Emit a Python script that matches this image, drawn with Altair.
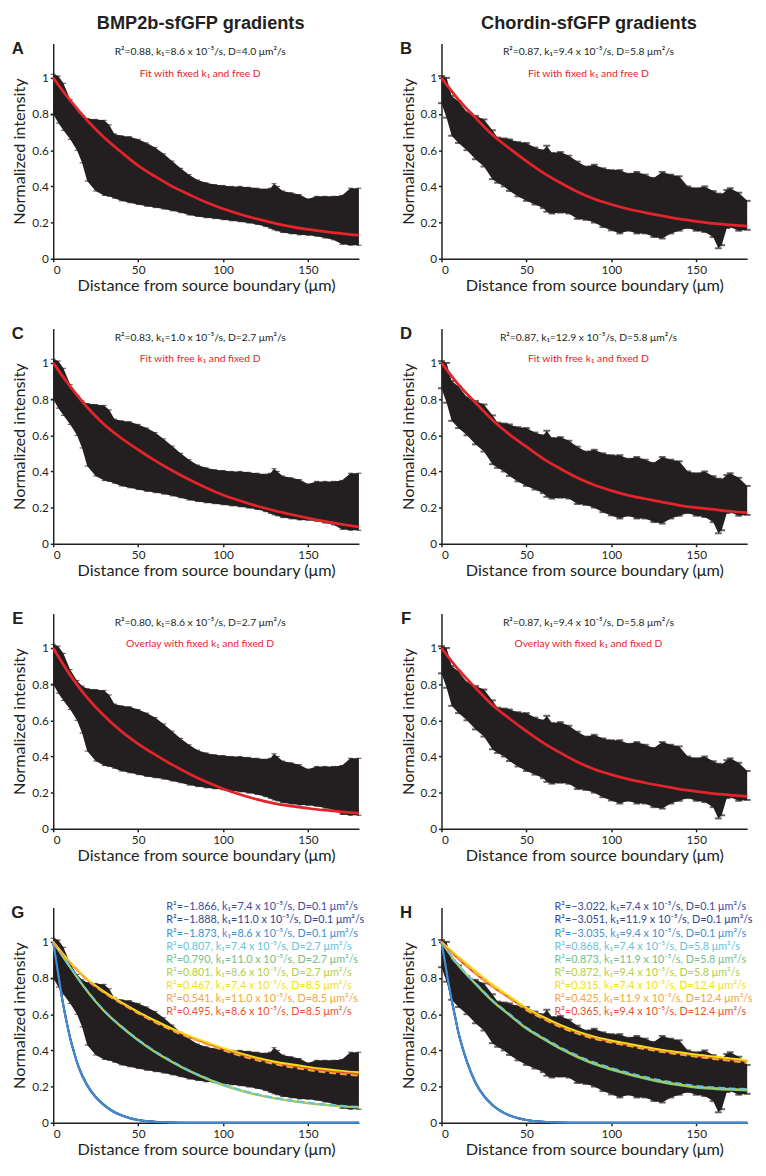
import altair as alt
import pandas as pd

# ---------------- data ----------------
BMP_X = [0, 3, 6, 10, 14, 17, 20, 25, 30, 33, 36, 40, 45, 50, 55, 60, 65, 70, 75, 80, 85,
         90, 95, 100, 105, 110, 115, 120, 125, 128, 130, 132, 135, 140, 145, 150, 155, 160,
         165, 170, 175, 180]
BMP_UP = [1.02, 1.01, 0.97, 0.88, 0.82, 0.79, 0.775, 0.77, 0.765, 0.74, 0.69, 0.68, 0.675,
          0.66, 0.64, 0.615, 0.58, 0.54, 0.50, 0.465, 0.435, 0.42, 0.41, 0.405, 0.40, 0.40,
          0.395, 0.39, 0.385, 0.39, 0.415, 0.40, 0.375, 0.365, 0.355, 0.33, 0.345, 0.345,
          0.345, 0.35, 0.39, 0.39]
BMP_LO = [0.80, 0.75, 0.71, 0.66, 0.60, 0.53, 0.43, 0.375, 0.35, 0.345, 0.335, 0.32, 0.31,
          0.30, 0.29, 0.283, 0.275, 0.265, 0.255, 0.242, 0.234, 0.227, 0.222, 0.216, 0.21,
          0.205, 0.198, 0.19, 0.178, 0.168, 0.16, 0.155, 0.145, 0.138, 0.132, 0.13, 0.125,
          0.115, 0.105, 0.08, 0.075, 0.075]

CHD_X = [0, 3, 6, 10, 15, 20, 25, 30, 33, 37, 40, 45, 50, 55, 60, 62, 65, 70, 75, 80, 85,
         90, 95, 100, 105, 110, 115, 120, 125, 130, 135, 140, 145, 150, 155, 160, 163, 165,
         168, 170, 175, 180]
CHD_UP = [1.01, 1.0, 0.90, 0.87, 0.81, 0.79, 0.77, 0.71, 0.67, 0.665, 0.66, 0.645, 0.64,
          0.615, 0.60, 0.625, 0.585, 0.59, 0.57, 0.537, 0.51, 0.52, 0.50, 0.49, 0.49, 0.47,
          0.48, 0.465, 0.447, 0.48, 0.465, 0.456, 0.40, 0.39, 0.40, 0.374, 0.36, 0.356,
          0.38, 0.39, 0.365, 0.32]
CHD_LO = [0.86, 0.78, 0.68, 0.64, 0.60, 0.55, 0.51, 0.44, 0.42, 0.40, 0.375, 0.345, 0.32,
          0.30, 0.28, 0.26, 0.25, 0.255, 0.25, 0.22, 0.215, 0.20, 0.175, 0.157, 0.14, 0.155,
          0.14, 0.14, 0.12, 0.112, 0.14, 0.155, 0.17, 0.155, 0.148, 0.12, 0.058, 0.075,
          0.17, 0.175, 0.155, 0.16]

FIT_X = [0, 10, 20, 30, 40, 50, 60, 70, 80, 90, 100, 110, 120, 130, 140, 150, 160, 170, 180]
FIT_A = [1.0, 0.875, 0.765, 0.67, 0.59, 0.515, 0.455, 0.40, 0.355, 0.312, 0.276, 0.246,
         0.22, 0.197, 0.178, 0.162, 0.15, 0.139, 0.13]
FIT_B = [1.0, 0.88, 0.78, 0.685, 0.61, 0.54, 0.475, 0.42, 0.37, 0.33, 0.30, 0.275, 0.255,
         0.237, 0.22, 0.207, 0.195, 0.187, 0.18]
FIT_C = [1.0, 0.87, 0.755, 0.66, 0.585, 0.52, 0.46, 0.405, 0.355, 0.31, 0.27, 0.238, 0.209,
         0.184, 0.162, 0.142, 0.124, 0.108, 0.094]
FIT_D = [1.0, 0.88, 0.78, 0.685, 0.605, 0.537, 0.47, 0.415, 0.365, 0.325, 0.294, 0.268,
         0.249, 0.23, 0.213, 0.2, 0.19, 0.18, 0.172]
FIT_E = [1.0, 0.85, 0.725, 0.625, 0.54, 0.47, 0.41, 0.355, 0.305, 0.26, 0.222, 0.19, 0.163,
         0.141, 0.126, 0.114, 0.103, 0.094, 0.087]
FIT_F = [1.0, 0.88, 0.78, 0.685, 0.61, 0.54, 0.475, 0.42, 0.37, 0.33, 0.30, 0.275, 0.255,
         0.237, 0.22, 0.207, 0.195, 0.187, 0.18]

LOW_X = [0, 2, 4, 6, 8, 10, 12, 15, 20, 25, 30, 35, 40, 45, 50, 60, 70, 80, 100, 140, 180]
G1 = [1.0, 0.88, 0.76, 0.65, 0.555, 0.47, 0.40, 0.31, 0.21, 0.145, 0.10, 0.066, 0.043,
      0.027, 0.016, 0.006, 0.002, 0.0005, 0, 0, 0]
G2 = [1.0, 0.88, 0.755, 0.645, 0.55, 0.465, 0.395, 0.305, 0.205, 0.14, 0.096, 0.063, 0.041,
      0.025, 0.015, 0.005, 0.0015, 0.0004, 0, 0, 0]
G3 = [1.0, 0.88, 0.758, 0.648, 0.552, 0.468, 0.398, 0.308, 0.208, 0.143, 0.098, 0.064,
      0.042, 0.026, 0.0155, 0.0055, 0.0017, 0.0004, 0, 0, 0]
G4 = [1.0, 0.86, 0.73, 0.62, 0.535, 0.46, 0.395, 0.34, 0.29, 0.248, 0.212, 0.183, 0.158,
      0.139, 0.124, 0.112, 0.102, 0.094, 0.088]
G5 = [1.0, 0.858, 0.727, 0.617, 0.53, 0.455, 0.39, 0.335, 0.285, 0.243, 0.207, 0.178,
      0.154, 0.135, 0.12, 0.108, 0.098, 0.09, 0.084]
G6 = [1.0, 0.86, 0.728, 0.618, 0.533, 0.458, 0.392, 0.337, 0.288, 0.246, 0.21, 0.181,
      0.156, 0.137, 0.122, 0.11, 0.1, 0.092, 0.086]
G7 = [1.0, 0.888, 0.795, 0.725, 0.667, 0.613, 0.565, 0.52, 0.482, 0.447, 0.414, 0.385,
      0.36, 0.339, 0.323, 0.309, 0.297, 0.287, 0.279]
G8 = [1.0, 0.884, 0.79, 0.718, 0.66, 0.605, 0.555, 0.51, 0.471, 0.435, 0.401, 0.371,
      0.346, 0.325, 0.307, 0.292, 0.279, 0.269, 0.26]
G9 = [1.0, 0.886, 0.792, 0.721, 0.663, 0.609, 0.56, 0.515, 0.476, 0.441, 0.408, 0.378,
      0.353, 0.332, 0.315, 0.3, 0.288, 0.278, 0.269]

H1 = [1.0, 0.89, 0.78, 0.68, 0.59, 0.50, 0.43, 0.34, 0.225, 0.15, 0.10, 0.065, 0.042,
      0.026, 0.016, 0.006, 0.002, 0.0005, 0, 0, 0]
H2 = [1.0, 0.89, 0.775, 0.675, 0.585, 0.495, 0.425, 0.335, 0.22, 0.146, 0.097, 0.063,
      0.04, 0.025, 0.015, 0.005, 0.0015, 0.0004, 0, 0, 0]
H3 = [1.0, 0.89, 0.778, 0.678, 0.588, 0.498, 0.428, 0.338, 0.223, 0.148, 0.098, 0.064,
      0.041, 0.0255, 0.0155, 0.0055, 0.0017, 0.0004, 0, 0, 0]
H4 = [1.0, 0.872, 0.772, 0.678, 0.601, 0.527, 0.47, 0.417, 0.372, 0.333, 0.303, 0.277,
      0.253, 0.233, 0.217, 0.204, 0.196, 0.19, 0.186]
H5 = [1.0, 0.868, 0.767, 0.672, 0.595, 0.52, 0.462, 0.408, 0.362, 0.323, 0.293, 0.267,
      0.243, 0.223, 0.207, 0.194, 0.187, 0.182, 0.178]
H6 = [1.0, 0.87, 0.77, 0.675, 0.598, 0.523, 0.466, 0.412, 0.367, 0.328, 0.298, 0.272,
      0.248, 0.228, 0.212, 0.199, 0.192, 0.187, 0.183]
H7 = [1.0, 0.918, 0.84, 0.765, 0.7, 0.636, 0.585, 0.541, 0.505, 0.476, 0.455, 0.437,
      0.419, 0.403, 0.39, 0.377, 0.366, 0.356, 0.346]
H8 = [1.0, 0.91, 0.828, 0.752, 0.687, 0.623, 0.573, 0.529, 0.493, 0.464, 0.443, 0.425,
      0.407, 0.391, 0.378, 0.365, 0.353, 0.342, 0.333]
H9 = [1.0, 0.905, 0.825, 0.752, 0.69, 0.628, 0.578, 0.534, 0.498, 0.469, 0.449, 0.431,
      0.413, 0.397, 0.384, 0.371, 0.36, 0.35, 0.34]

G_LABELS = [
    "R²=−1.866, k₁=7.4 x 10⁻⁵/s, D=0.1 μm²/s",
    "R²=−1.888, k₁=11.0 x 10⁻⁵/s, D=0.1 μm²/s",
    "R²=−1.873, k₁=8.6 x 10⁻⁵/s, D=0.1 μm²/s",
    "R²=0.807, k₁=7.4 x 10⁻⁵/s, D=2.7 μm²/s",
    "R²=0.790, k₁=11.0 x 10⁻⁵/s, D=2.7 μm²/s",
    "R²=0.801, k₁=8.6 x 10⁻⁵/s, D=2.7 μm²/s",
    "R²=0.467, k₁=7.4 x 10⁻⁵/s, D=8.5 μm²/s",
    "R²=0.541, k₁=11.0 x 10⁻⁵/s, D=8.5 μm²/s",
    "R²=0.495, k₁=8.6 x 10⁻⁵/s, D=8.5 μm²/s",
]
H_LABELS = [
    "R²=−3.022, k₁=7.4 x 10⁻⁵/s, D=0.1 μm²/s",
    "R²=−3.051, k₁=11.9 x 10⁻⁵/s, D=0.1 μm²/s",
    "R²=−3.035, k₁=9.4 x 10⁻⁵/s, D=0.1 μm²/s",
    "R²=0.868, k₁=7.4 x 10⁻⁵/s, D=5.8 μm²/s",
    "R²=0.873, k₁=11.9 x 10⁻⁵/s, D=5.8 μm²/s",
    "R²=0.872, k₁=9.4 x 10⁻⁵/s, D=5.8 μm²/s",
    "R²=0.315, k₁=7.4 x 10⁻⁵/s, D=12.4 μm²/s",
    "R²=0.425, k₁=11.9 x 10⁻⁵/s, D=12.4 μm²/s",
    "R²=0.365, k₁=9.4 x 10⁻⁵/s, D=12.4 μm²/s",
]
CURVE_COLORS = ["#394c9f", "#2e4597", "#3f8fcf", "#67c2da", "#6fbf87", "#b3cf3f",
                "#f4de1c", "#f5a53a", "#e8542b"]
LEGEND_Y = [1.19, 1.118, 1.046, 0.974, 0.902, 0.830, 0.758, 0.686, 0.614]

ANNOT = {
    "A": ("R²=0.88, k₁=8.6 x 10⁻⁵/s, D=4.0 μm²/s", "Fit with fixed k₁ and free D"),
    "B": ("R²=0.87, k₁=9.4 x 10⁻⁵/s, D=5.8 μm²/s", "Fit with fixed k₁ and free D"),
    "C": ("R²=0.83, k₁=1.0 x 10⁻⁵/s, D=2.7 μm²/s", "Fit with free k₁ and fixed D"),
    "D": ("R²=0.87, k₁=12.9 x 10⁻⁵/s, D=5.8 μm²/s", "Fit with free k₁ and fixed D"),
    "E": ("R²=0.80, k₁=8.6 x 10⁻⁵/s, D=2.7 μm²/s", "Overlay with fixed k₁ and fixed D"),
    "F": ("R²=0.87, k₁=9.4 x 10⁻⁵/s, D=5.8 μm²/s", "Overlay with fixed k₁ and fixed D"),
}
COL_TITLES = ["BMP2b-sfGFP gradients", "Chordin-sfGFP gradients"]

# ---------------- styling ----------------
BLACK = "#231f20"
RED = "#e3242b"
FONT = "Lato"
W, H = 311, 219
xs = alt.Scale(domain=[0, 180], nice=False, zero=False, padding=0)
ys = alt.Scale(domain=[0, 1.19], nice=False, padding=0)
xaxis = alt.Axis(title="Distance from source boundary (μm)", values=[0, 50, 100, 150],
                 grid=False, labelPadding=3, titlePadding=2)
yaxis = alt.Axis(title="Normalized intensity", values=[0, 0.2, 0.4, 0.6, 0.8, 1],
                 format="~g", grid=False, labelPadding=2, titlePadding=4)


def band(bx, up, lo, cap, thick):
    df = pd.DataFrame({"x": bx, "up": up, "lo": lo})
    base = alt.Chart(df)
    area = base.mark_area(color=BLACK).encode(
        x=alt.X("x:Q", scale=xs, axis=xaxis),
        y=alt.Y("up:Q", scale=ys, axis=yaxis),
        y2="lo:Q",
    )
    cu = base.mark_tick(color=BLACK, orient="horizontal", size=cap, thickness=thick).encode(
        x=alt.X("x:Q", scale=xs), y=alt.Y("up:Q", scale=ys))
    cl = base.mark_tick(color=BLACK, orient="horizontal", size=cap, thickness=thick).encode(
        x=alt.X("x:Q", scale=xs), y=alt.Y("lo:Q", scale=ys))
    return [area, cu, cl]


def curve(cx, cy, color, width=2.0, dash=None):
    df = pd.DataFrame({"x": cx, "y": cy})
    kw = dict(color=color, strokeWidth=width, interpolate="monotone")
    if dash:
        kw["strokeDash"] = dash
    return alt.Chart(df).mark_line(**kw).encode(
        x=alt.X("x:Q", scale=xs), y=alt.Y("y:Q", scale=ys))


def text(x, y, t, color=BLACK, size=10, align="center", font=FONT):
    df = pd.DataFrame({"x": [x], "y": [y], "t": [t]})
    return alt.Chart(df).mark_text(color=color, fontSize=size, align=align, font=font,
                                   baseline="middle").encode(
        x=alt.X("x:Q", scale=xs), y=alt.Y("y:Q", scale=ys), text="t:N")


def letter(l):
    df = pd.DataFrame({"t": [l]})
    return alt.Chart(df).mark_text(fontSize=17, fontWeight="bold", font="Liberation Sans",
                                   color=BLACK, align="center", baseline="alphabetic").encode(
        x=alt.value(-36), y=alt.value(11), text="t:N")


def col_title(t):
    df = pd.DataFrame({"t": [t]})
    return alt.Chart(df).mark_text(fontSize=18.5, fontWeight="bold", font="Liberation Sans",
                                   color=BLACK, align="center", baseline="alphabetic").encode(
        x=alt.value(150), y=alt.value(-15), text="t:N")


def spacer(top):
    df = pd.DataFrame({"v": [0]})
    return alt.Chart(df).mark_rule(opacity=0).encode(
        x=alt.value(0), y=alt.value(top), y2=alt.value(0))


def fit_panel(l, bx, up, lo, fit, cap, thick, title=None):
    layers = band(bx, up, lo, cap, thick) + [curve(FIT_X, fit, RED, 2.8)]
    a1, a2 = ANNOT[l]
    layers += [text(86.5, 1.14, a1, BLACK, 10.5), text(86.5, 1.02, a2, RED, 10.5), letter(l)]
    if title:
        layers.append(col_title(title))
    return alt.layer(*layers).properties(width=W, height=H)


def multi_panel(l, bx, up, lo, curves, labels, cap, thick):
    layers = band(bx, up, lo, cap, thick)
    order = [0, 1, 2, 4, 5, 3, 8, 6, 7]
    for i in order:
        cx = LOW_X if i < 3 else FIT_X
        dash = [7, 4] if i in (3, 7) else None
        layers.append(curve(cx, curves[i], CURVE_COLORS[i], 2.0, dash))
    for i, t in enumerate(labels):
        layers.append(text(66.6, LEGEND_Y[i], t, CURVE_COLORS[i], 11, "left"))
    layers += [letter(l), spacer(-12)]
    return alt.layer(*layers).properties(width=W, height=H)


pA = fit_panel("A", BMP_X, BMP_UP, BMP_LO, FIT_A, 5, 1.2, COL_TITLES[0])
pB = fit_panel("B", CHD_X, CHD_UP, CHD_LO, FIT_B, 7, 2, COL_TITLES[1])
pC = fit_panel("C", BMP_X, BMP_UP, BMP_LO, FIT_C, 5, 1.2)
pD = fit_panel("D", CHD_X, CHD_UP, CHD_LO, FIT_D, 7, 2)
pE = fit_panel("E", BMP_X, BMP_UP, BMP_LO, FIT_E, 5, 1.2)
pF = fit_panel("F", CHD_X, CHD_UP, CHD_LO, FIT_F, 7, 2)
pG = multi_panel("G", BMP_X, BMP_UP, BMP_LO, [G1, G2, G3, G4, G5, G6, G7, G8, G9], G_LABELS, 5, 1.2)
pH = multi_panel("H", CHD_X, CHD_UP, CHD_LO, [H1, H2, H3, H4, H5, H6, H7, H8, H9], H_LABELS, 7, 2)

chart = alt.concat(pA, pB, pC, pD, pE, pF, pG, pH, columns=2,
                   spacing=alt.RowColnumber(row=32, column=35))

chart = chart.configure_view(stroke=None).configure_axis(
    domainColor=BLACK, domainWidth=1.5, tickColor=BLACK, tickWidth=1.5, tickSize=3,
    labelFont=FONT, labelFontSize=12, labelColor=BLACK,
    titleFont=FONT, titleFontSize=16.5, titleFontWeight="normal", titleColor=BLACK,
).properties(padding={"left": 3, "top": -4, "right": 5, "bottom": 5})

chart.save("out.html", embed_options={"renderer": "svg", "actions": False})
